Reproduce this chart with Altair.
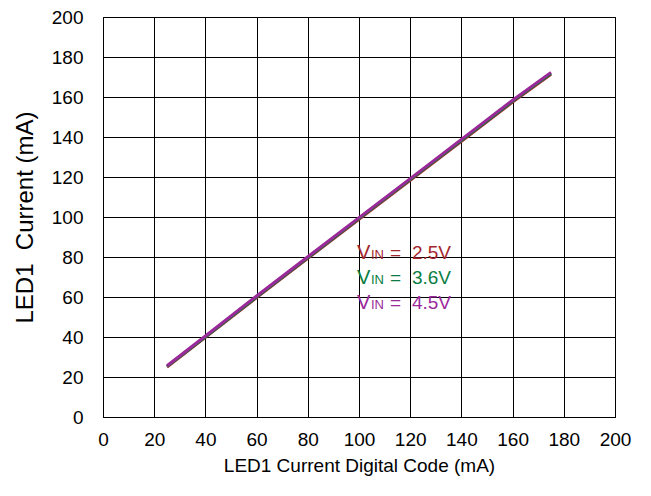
import altair as alt
import pandas as pd

code = [25, 40, 60, 80, 100, 120, 140, 160, 175]
i_25 = [25.0, 39.8, 59.7, 79.3, 98.9, 118.3, 137.9, 157.5, 171.4]
i_36 = [25.3, 40.1, 60.1, 79.7, 99.3, 118.8, 138.4, 158.0, 171.9]
i_45 = [25.6, 40.5, 60.5, 80.1, 99.7, 119.2, 138.8, 158.4, 172.3]

series = ["VIN = 2.5V", "VIN = 3.6V", "VIN = 4.5V"]
colors = ["#a3262c", "#0b7d42", "#9a2a9a"]
label_val = ["2.5V", "3.6V", "4.5V"]
label_y = [79.0, 66.5, 54.0]
label_x = [99.2, 99.2, 99.2]
ticks = list(range(0, 201, 20))

FONT = "Liberation Sans"

rows = []
for s, ys in zip(series, [i_25, i_36, i_45]):
    for x, y in zip(code, ys):
        rows.append({"code": x, "current": y, "series": s})
df = pd.DataFrame(rows)

lab = pd.DataFrame({"series": series, "code": label_x, "current": label_y, "val": label_val})

xs = alt.Scale(domain=[0, 200], nice=False)
ys_ = alt.Scale(domain=[0, 200], nice=False)
cs = alt.Scale(domain=series, range=colors)

common = dict(grid=True, gridColor="#000000", gridOpacity=1, gridWidth=1,
              domainColor="#000000", domainWidth=1, ticks=False,
              labelFontSize=19, labelFont=FONT, labelColor="#000000",
              labelOverlap=False, labelFlush=False, labelBound=False,
              titleFont=FONT, titleFontWeight="normal", titleColor="#000000")

x_axis = alt.Axis(values=ticks, title="LED1 Current Digital Code (mA)",
                  labelPadding=13, titlePadding=7, titleFontSize=19, **common)
y_axis = alt.Axis(values=ticks, title="LED1\u00a0\u00a0Current (mA)",
                  labelPadding=20, titlePadding=14, titleFontSize=24, **common)

X = alt.X("code:Q", scale=xs, axis=x_axis)
Y = alt.Y("current:Q", scale=ys_, axis=y_axis)
C = alt.Color("series:N", scale=cs, legend=None)

line_layers = [
    alt.Chart(df).transform_filter(alt.datum.series == s).mark_line(strokeWidth=3).encode(
        x=X, y=Y, color=C)
    for s in series
]

base = alt.Chart(lab).encode(x=X, y=Y, color=C)
t_v = base.mark_text(align="left", baseline="alphabetic", fontSize=20, font=FONT).encode(
    text=alt.value("V"))
t_in = base.mark_text(align="left", baseline="alphabetic", fontSize=13, font=FONT, dx=14).encode(
    text=alt.value("IN"))
t_eq = base.mark_text(align="left", baseline="alphabetic", fontSize=19, font=FONT, dx=33).encode(
    text=alt.value("="))
t_val = base.mark_text(align="left", baseline="alphabetic", fontSize=19, font=FONT, dx=55).encode(
    text="val:N")

chart = alt.layer(*line_layers, t_v, t_in, t_eq, t_val).properties(
    width=512, height=400,
    background="#ffffff",
    autosize=alt.AutoSizeParams(type="none"),
    padding={"left": 103, "top": 17, "right": 36, "bottom": 79},
).configure_view(stroke="#000000", strokeWidth=1)

chart.save("out.html", embed_options={"renderer": "svg", "actions": False})
